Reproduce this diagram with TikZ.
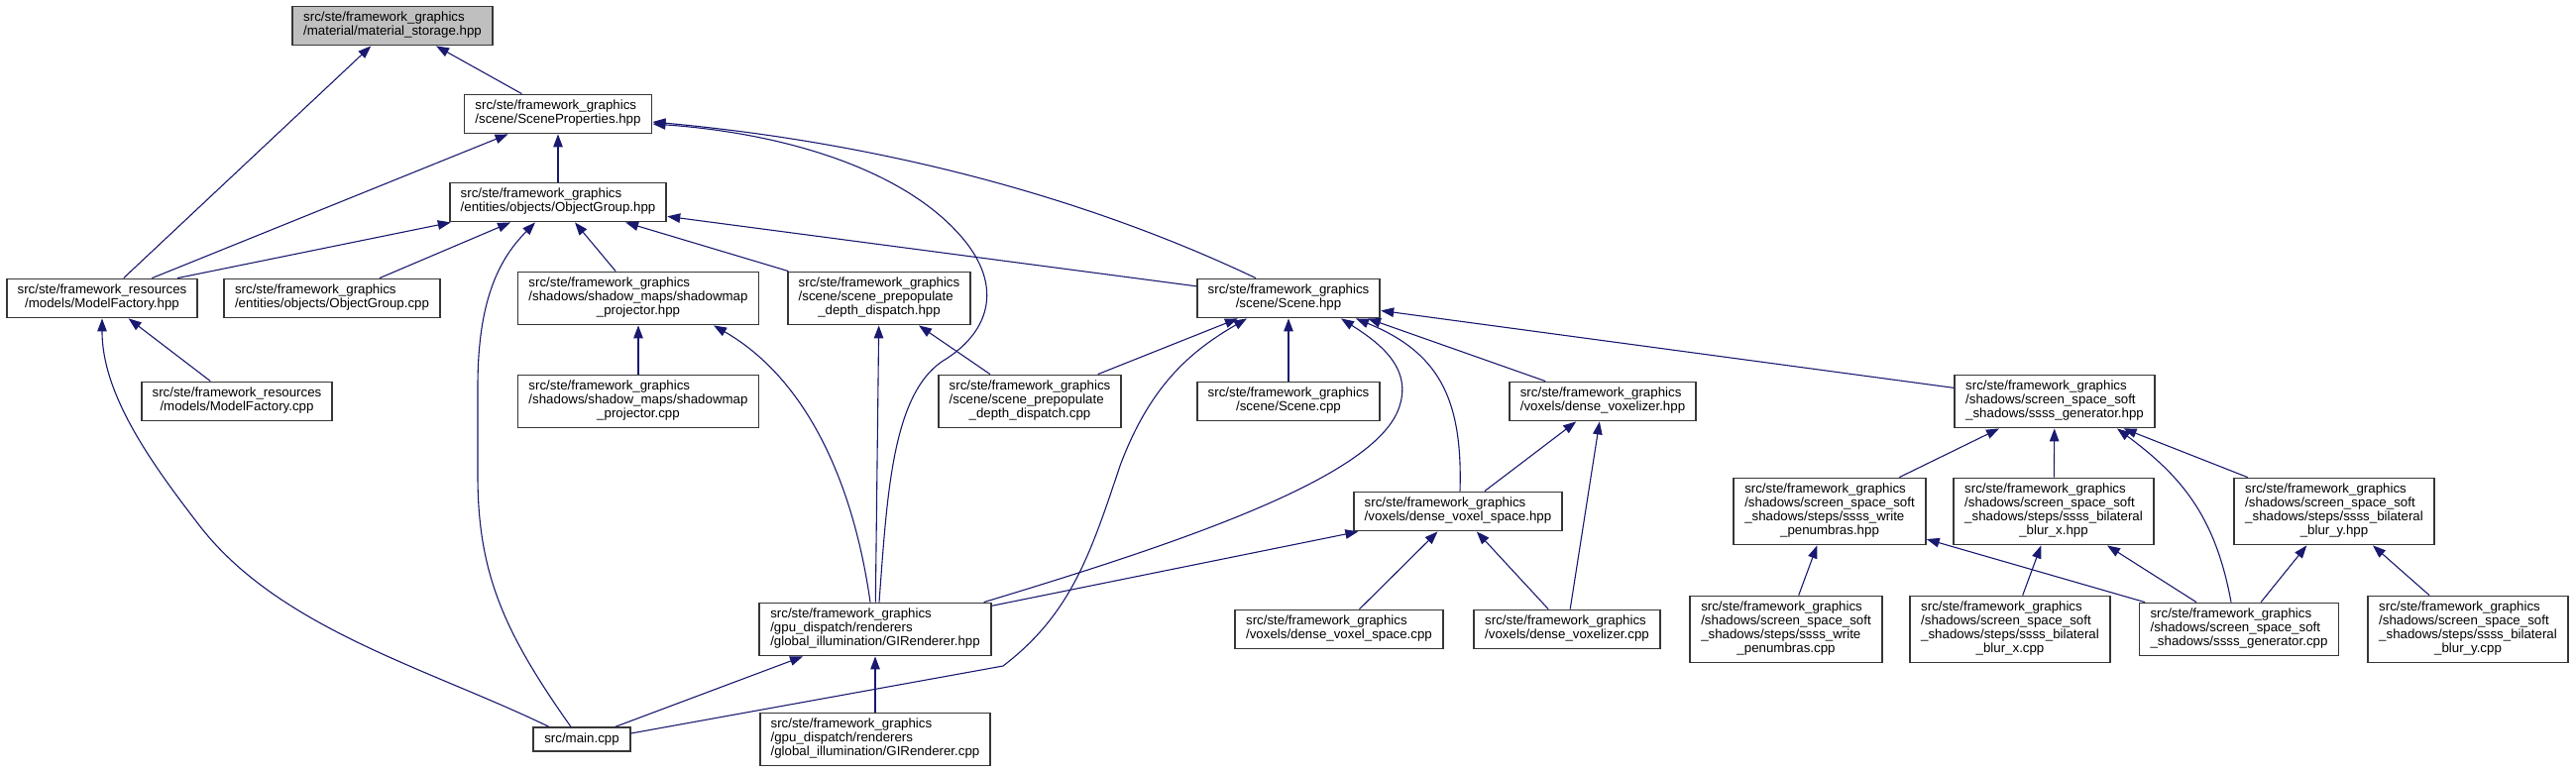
\documentclass[tikz,border=0pt]{standalone}
\usepackage{fontspec}
\setmainfont{Liberation Sans}
\usetikzlibrary{arrows.meta}

\definecolor{edgeblue}{RGB}{25,25,112}
\definecolor{boxline}{RGB}{55,55,55}

\begin{document}
\begin{tikzpicture}[x=1pt, y=-1pt, >={Triangle[length=13pt, width=9.5pt]},
  file/.style={draw=boxline, line width=1.8pt, fill=white, inner xsep=11pt,
    inner ysep=5.5pt, font=\fontsize{13.3}{14}\selectfont},
  root/.style={file, fill=gray!50},
  edge/.style={draw=edgeblue, line width=1.1pt, ->}]

  % 文件名: 前几行左对齐, 最后一行居中
  \def\flabel#1#2{\begin{tabular}{@{}l@{}}#1\\\multicolumn{1}{@{}c@{}}{#2}\end{tabular}}

  \useasboundingbox (0,0) rectangle (2599,780);

  % 1. 左半部分
  \node[root] (ms) at (396,26) {\flabel{src/ste/framework\_graphics}{/material/material\_storage.hpp}};
  \node[file] (sp) at (563,115) {\flabel{src/ste/framework\_graphics}{/scene/SceneProperties.hpp}};
  \node[file] (og) at (563,204) {\flabel{src/ste/framework\_graphics}{/entities/objects/ObjectGroup.hpp}};
  \node[file] (mfh) at (103,301) {\flabel{src/ste/framework\_resources}{/models/ModelFactory.hpp}};
  \node[file] (ogc) at (335,301) {\flabel{src/ste/framework\_graphics}{/entities/objects/ObjectGroup.cpp}};
  \node[file] (smh) at (644,301) {\flabel{src/ste/framework\_graphics\\/shadows/shadow\_maps/shadowmap}{\_projector.hpp}};
  \node[file] (spd) at (887,301) {\flabel{src/ste/framework\_graphics\\/scene/scene\_prepopulate}{\_depth\_dispatch.hpp}};
  \node[file] (mfc) at (239,405) {\flabel{src/ste/framework\_resources}{/models/ModelFactory.cpp}};
  \node[file] (smc) at (644,405) {\flabel{src/ste/framework\_graphics\\/shadows/shadow\_maps/shadowmap}{\_projector.cpp}};
  \node[file] (main) at (587,746) {src/main.cpp};
  \node[file] (gih) at (883,635) {\flabel{src/ste/framework\_graphics\\/gpu\_dispatch/renderers}{/global\_illumination/GIRenderer.hpp}};
  \node[file] (gic) at (883,746) {\flabel{src/ste/framework\_graphics\\/gpu\_dispatch/renderers}{/global\_illumination/GIRenderer.cpp}};

  % 2. 中间部分 (scene, voxels)
  \node[file] (sc) at (1300,301) {\flabel{src/ste/framework\_graphics}{/scene/Scene.hpp}};
  \node[file] (spdc) at (1039,405) {\flabel{src/ste/framework\_graphics\\/scene/scene\_prepopulate}{\_depth\_dispatch.cpp}};
  \node[file] (scc) at (1300,405) {\flabel{src/ste/framework\_graphics}{/scene/Scene.cpp}};
  \node[file] (dvz) at (1617,405) {\flabel{src/ste/framework\_graphics}{/voxels/dense\_voxelizer.hpp}};
  \node[file] (dvs) at (1471,516) {\flabel{src/ste/framework\_graphics}{/voxels/dense\_voxel\_space.hpp}};
  \node[file] (dvsc) at (1351,635) {\flabel{src/ste/framework\_graphics}{/voxels/dense\_voxel\_space.cpp}};
  \node[file] (dvzc) at (1581,635) {\flabel{src/ste/framework\_graphics}{/voxels/dense\_voxelizer.cpp}};

  % 3. 右半部分 (screen space soft shadows)
  \node[file] (sgh) at (2073,405) {\flabel{src/ste/framework\_graphics\\/shadows/screen\_space\_soft}{\_shadows/ssss\_generator.hpp}};
  \node[file] (wph) at (1846,516) {\flabel{src/ste/framework\_graphics\\/shadows/screen\_space\_soft\\\_shadows/steps/ssss\_write}{\_penumbras.hpp}};
  \node[file] (bxh) at (2072,516) {\flabel{src/ste/framework\_graphics\\/shadows/screen\_space\_soft\\\_shadows/steps/ssss\_bilateral}{\_blur\_x.hpp}};
  \node[file] (byh) at (2355,516) {\flabel{src/ste/framework\_graphics\\/shadows/screen\_space\_soft\\\_shadows/steps/ssss\_bilateral}{\_blur\_y.hpp}};
  \node[file] (wpc) at (1802,635) {\flabel{src/ste/framework\_graphics\\/shadows/screen\_space\_soft\\\_shadows/steps/ssss\_write}{\_penumbras.cpp}};
  \node[file] (bxc) at (2028,635) {\flabel{src/ste/framework\_graphics\\/shadows/screen\_space\_soft\\\_shadows/steps/ssss\_bilateral}{\_blur\_x.cpp}};
  \node[file] (sgc) at (2259,635) {\flabel{src/ste/framework\_graphics\\/shadows/screen\_space\_soft}{\_shadows/ssss\_generator.cpp}};
  \node[file] (byc) at (2490,635) {\flabel{src/ste/framework\_graphics\\/shadows/screen\_space\_soft\\\_shadows/steps/ssss\_bilateral}{\_blur\_y.cpp}};

  % 4. 包含关系 (箭头指向被包含的文件)
  % material_storage.hpp
  \draw[edge] (mfh) -- (ms);
  \draw[edge] (sp) -- ([xshift=44pt]ms.south);
  % SceneProperties.hpp
  \draw[edge] (mfh) -- (sp);
  \draw[edge] (og) -- (sp);
  \draw[edge] ([xshift=-33pt]sc.north) .. controls (1150,225) and (950,150) .. ([yshift=-8pt]sp.east);
  \draw[edge] ([xshift=4pt]gih.north) .. controls (895,500) and (900,400) .. (950,365)
    .. controls (1000,335) and (1010,290) .. (975,245)
    .. controls (920,175) and (800,135) .. ([yshift=-10pt]sp.east);
  % ObjectGroup.hpp
  \draw[edge] ([xshift=76pt]mfh.north) -- ([xshift=2pt]og.south west);
  \draw[edge] (ogc) -- (og);
  \draw[edge] ([xshift=-11pt]main.north) .. controls (510,640) and (482,580) .. (482,480) -- (482,390)
    .. controls (482,300) and (505,260) .. ([xshift=-23pt]og.south);
  \draw[edge] (smh) -- (og);
  \draw[edge] (spd) -- (og);
  \draw[edge] (sc) -- (og);
  % ModelFactory.hpp
  \draw[edge] ([xshift=-33pt]main.north) .. controls (434,675) and (282,635) .. (201,530)
    .. controls (154,469) and (103,399) .. (mfh.south);
  \draw[edge] (mfc) -- (mfh);
  % shadowmap_projector.hpp
  \draw[edge] (smc) -- (smh);
  \draw[edge] ([xshift=-5pt]gih.north) .. controls (860,480) and (810,380) .. ([xshift=76pt]smh.south);
  % scene_prepopulate_depth_dispatch.hpp
  \draw[edge] (gih) -- (spd);
  \draw[edge] (spdc) -- (spd);
  % Scene.hpp
  \draw[edge] (spdc) -- (sc);
  \draw[edge] ([yshift=6pt]main.east) -- (1012,672) .. controls (1080,620) and (1100,560) .. (1130,470)
    .. controls (1160,390) and (1200,355) .. ([xshift=-42pt]sc.south);
  \draw[edge] (scc) -- (sc);
  \draw[edge] ([xshift=-8pt]gih.north east) .. controls (1200,545) and (1390,480) .. (1412,410)
    .. controls (1425,370) and (1390,345) .. ([xshift=53pt]sc.south);
  \draw[edge] ([xshift=2pt]dvs.north) .. controls (1476,400) and (1450,355) .. ([xshift=68pt]sc.south);
  \draw[edge] (dvz) -- ([xshift=80pt]sc.south);
  \draw[edge] (sgh) -- (sc);
  % dense_voxelizer.hpp
  \draw[edge] (dvs) -- (dvz);
  \draw[edge] (dvzc) -- (dvz);
  % dense_voxel_space.hpp
  \draw[edge] (gih) -- (dvs);
  \draw[edge] (dvsc) -- (dvs);
  \draw[edge] (dvzc) -- (dvs);
  % GIRenderer.hpp
  \draw[edge] (main) -- (gih);
  \draw[edge] (gic) -- (gih);
  % ssss_generator.hpp
  \draw[edge] (wph) -- (sgh);
  \draw[edge] (bxh) -- (sgh);
  \draw[edge] ([xshift=-8pt]sgc.north) .. controls (2235,520) and (2200,480) .. ([xshift=63pt]sgh.south);
  \draw[edge] (byh) -- (sgh);
  % steps
  \draw[edge] (wpc) -- (wph);
  \draw[edge] (sgc) -- (wph);
  \draw[edge] (bxc) -- (bxh);
  \draw[edge] (sgc) -- (bxh);
  \draw[edge] (sgc) -- (byh);
  \draw[edge] (byc) -- (byh);

\end{tikzpicture}
\end{document}
